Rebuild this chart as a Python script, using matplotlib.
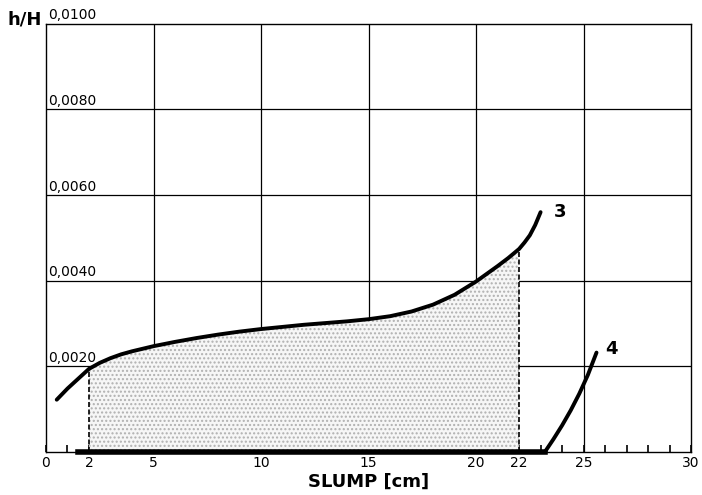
import matplotlib
matplotlib.use("Agg")
import matplotlib.pyplot as plt
import numpy as np

# Curve 3
c3_x = [0.5, 1, 1.5, 2, 2.5, 3, 3.5, 4, 5, 6, 7, 8, 9, 10, 11, 12, 13, 14, 15, 16, 17, 18, 19,
        20, 20.5, 21, 21.5, 22, 22.25, 22.5, 22.75, 23]
c3_y = [0.00122, 0.00148, 0.00171, 0.00194, 0.00208, 0.00219, 0.00228, 0.00235, 0.00247, 0.00257,
        0.00266, 0.00274, 0.00281, 0.00287, 0.00292, 0.00297, 0.00301, 0.00305, 0.00310, 0.00317,
        0.00328, 0.00344, 0.00367, 0.00398, 0.00416, 0.00434, 0.00453, 0.00474, 0.00489, 0.00506,
        0.00530, 0.00560]
# Curve 4
c4_x = [23.2, 23.6, 24.0, 24.4, 24.8, 25.2, 25.6]
c4_y = [0.0, 0.00030, 0.00062, 0.00097, 0.00136, 0.00180, 0.00232]

shade_from, shade_to = 2, 22
bar_from, bar_to = 1.5, 23.2

xticks = [0, 2, 5, 10, 15, 20, 22, 25, 30]
xticklabels = ["0", "2", "5", "10", "15", "20", "22", "25", "30"]
yticks = [0.002, 0.004, 0.006, 0.008, 0.010]
yticklabels = ["0,0020", "0,0040", "0,0060", "0,0080", "0,0100"]

fig = plt.figure(figsize=(7.02, 4.95), dpi=100)
ax = fig.add_axes([0.0655, 0.087, 0.919, 0.865])
ax.set_xlim(0, 30)
ax.set_ylim(0, 0.010)

# grid
for gx in [5, 10, 15, 20, 25]:
    ax.axvline(gx, color="black", lw=0.9, zorder=1)
for gy in [0.002, 0.004, 0.006, 0.008]:
    ax.axhline(gy, color="black", lw=0.9, zorder=1)

# shaded area
xs = np.array(c3_x)
ys = np.array(c3_y)
mask = (xs >= shade_from) & (xs <= shade_to)
ax.fill_between(xs[mask], 0, ys[mask], facecolor="#f6f6f6", edgecolor="#b0b0b0",
                hatch="....", linewidth=0, zorder=2)
y2 = ys[xs == shade_from][0]
y22 = ys[xs == shade_to][0]
ax.plot([shade_from, shade_from], [0, y2], color="black", ls=(0, (3, 1.5)), lw=1.2, zorder=3)
ax.plot([shade_to, shade_to], [0, y22], color="black", ls=(0, (3, 1.5)), lw=1.2, zorder=3)

ax.plot(c3_x, c3_y, color="black", lw=2.8, solid_capstyle="round", solid_joinstyle="round", zorder=4)
ax.plot(c4_x, c4_y, color="black", lw=2.8, solid_capstyle="round", solid_joinstyle="round", zorder=4)
ax.plot([bar_from, bar_to], [0, 0], color="black", lw=4, zorder=4, clip_on=False)

ax.text(23.6, 0.0056, "3", fontsize=13, fontweight="bold", va="center", ha="left")
ax.text(26.0, 0.0024, "4", fontsize=13, fontweight="bold", va="center", ha="left")

for sp in ax.spines.values():
    sp.set_linewidth(1.0)

ax.set_xticks(xticks)
ax.set_xticklabels(xticklabels, fontsize=10)
ax.set_xticks(range(0, 31), minor=True)
ax.tick_params(axis="x", which="both", direction="in", length=5, width=1.2, pad=3)
ax.set_yticks([])
for t, lab in zip(yticks, yticklabels):
    ax.text(0.08, t + 0.00003, lab, fontsize=10, ha="left", va="bottom", clip_on=False)

ax.set_xlabel("SLUMP [cm]", fontsize=13, fontweight="bold", labelpad=2)
ax.text(-0.2, 0.0101, "h/H", fontsize=13, fontweight="bold", ha="right", va="center")

fig.savefig("out.png", dpi=100)
